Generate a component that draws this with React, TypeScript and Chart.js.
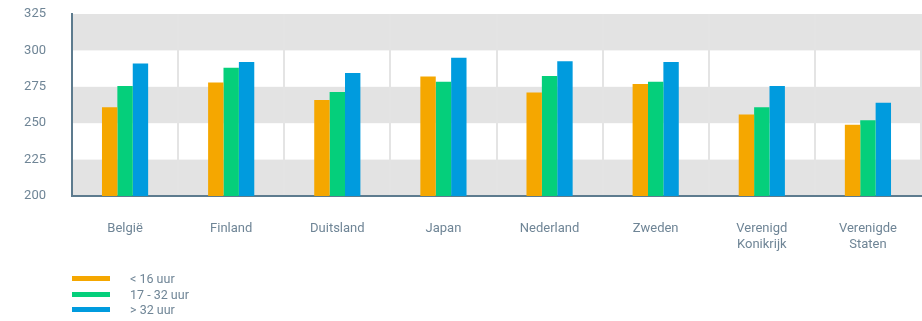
import React, { useEffect, useRef } from "react";
import { Chart, registerables } from "chart.js";

Chart.register(...registerables);

const categories: (string | string[])[] = [
  "België",
  "Finland",
  "Duitsland",
  "Japan",
  "Nederland",
  "Zweden",
  ["Verenigd", "Konikrijk"],
  ["Verenigde", "Staten"],
];
const seriesLabels = ["< 16 uur", "17 - 32 uur", "> 32 uur"];
const under16 = [261, 278, 266, 282, 271, 277, 256, 249];
const from17to32 = [275.5, 288, 271.5, 278.5, 282.5, 278.5, 261, 252];
const over32 = [291, 292, 284.5, 295, 292.5, 292, 275.5, 264];
const colors = ["#f5a700", "#05cf7b", "#009bde"];
const yMin = 200;
const yMax = 325;
const yStep = 25;

const textColor = "#6f8596";
const axisColor = "#5d7b8e";

const bandsPlugin = {
  id: "bands",
  beforeDraw(chart: any) {
    const { ctx, chartArea, scales } = chart;
    const y = scales.y;
    ctx.save();
    ctx.fillStyle = "#e3e3e3";
    let i = 0;
    for (let v = yMin; v < yMax; v += yStep, i++) {
      if (i % 2 === 0) {
        const top = y.getPixelForValue(v + yStep);
        const bot = y.getPixelForValue(v);
        ctx.fillRect(chartArea.left, top, chartArea.right - chartArea.left, bot - top);
      }
    }
    ctx.restore();
  },
};

export default function App() {
  const ref = useRef<HTMLCanvasElement | null>(null);
  useEffect(() => {
    document.body.style.margin = "0";
    const data = [under16, from17to32, over32];
    const chart = new Chart(ref.current as HTMLCanvasElement, {
      type: "bar",
      data: {
        labels: categories,
        datasets: seriesLabels.map((l, i) => ({
          label: l,
          data: data[i],
          backgroundColor: colors[i],
          borderWidth: 0,
          barPercentage: 1,
          categoryPercentage: 0.435,
        })),
      },
      options: {
        animation: false,
        responsive: false,
        maintainAspectRatio: false,
        layout: { padding: { top: 14, right: 1, left: 0, bottom: 0 } },
        plugins: {
          legend: { display: false },
          tooltip: { enabled: false },
        },
        scales: {
          x: {
            grid: { color: "#e4e4e4", lineWidth: 2, drawTicks: false },
            border: { display: true, color: axisColor, width: 2 },
            ticks: {
              color: textColor,
              font: { family: "Roboto", size: 13 },
              padding: 25,
              maxRotation: 0,
              autoSkip: false,
            },
            afterFit: (s: any) => {
              s.height = 125;
              s.paddingLeft = 0;
              s.paddingRight = 0;
            },
          },
          y: {
            min: yMin,
            max: yMax,
            grid: { display: false, drawTicks: false },
            border: { display: true, color: axisColor, width: 2 },
            ticks: {
              stepSize: yStep,
              color: textColor,
              font: { family: "Roboto", size: 13 },
              padding: 26,
            },
            afterFit: (s: any) => {
              s.width = 72;
              s.paddingTop = 0;
              s.paddingBottom = 0;
            },
          },
        },
      },
      plugins: [bandsPlugin],
    });
    return () => chart.destroy();
  }, []);

  return (
    <div style={{ position: "relative", width: 922, height: 321 }}>
      <canvas ref={ref} width={922} height={321} style={{ position: "absolute", left: 0, top: 0 }} />
      <div style={{ position: "absolute", left: 72, top: 271, fontFamily: "Roboto", fontSize: 12.5, color: textColor }}>
        {seriesLabels.map((l, i) => (
          <div key={l} style={{ display: "flex", alignItems: "center", height: 15.5 }}>
            <span style={{ display: "inline-block", width: 38, height: 5, background: colors[i], marginRight: 20 }} />
            <span>{l}</span>
          </div>
        ))}
      </div>
    </div>
  );
}
